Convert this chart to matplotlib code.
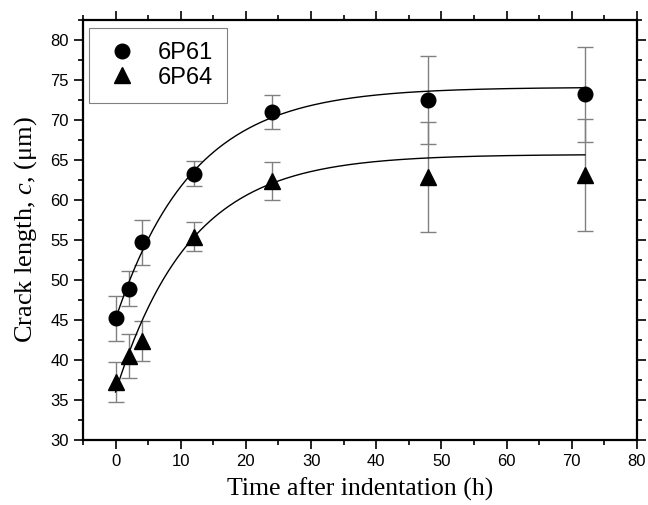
import numpy as np
import matplotlib
matplotlib.use('Agg')
import matplotlib.pyplot as plt
from matplotlib.ticker import MultipleLocator

# data
t_hours = [0, 2, 4, 12, 24, 48, 72]
c_6p61 = [45.2, 48.9, 54.7, 63.3, 71.0, 72.5, 73.2]
err_6p61 = [2.8, 2.2, 2.8, 1.6, 2.1, 5.5, 5.9]
c_6p64 = [37.3, 40.5, 42.4, 55.4, 62.4, 62.9, 63.1]
err_6p64 = [2.5, 2.8, 2.5, 1.8, 2.4, 6.9, 7.0]

# fitted saturation curves c = A - B*exp(-t/tau), parameters estimated from the drawn lines
fit_6p61 = (74.1, 29.0, 11.8)
fit_6p64 = (65.7, 29.7, 11.4)

plt.rcParams['mathtext.fontset'] = 'custom'
plt.rcParams['mathtext.it'] = 'Liberation Serif:italic'
plt.rcParams['mathtext.rm'] = 'Liberation Serif'

fig = plt.figure(figsize=(6.48,5.05), dpi=100)
ax = fig.add_axes([0.128, 0.1287, 0.855, 0.8317])

ecol = '#808080'
ax.errorbar(t_hours, c_6p61, yerr=err_6p61, fmt='none', ecolor=ecol, elinewidth=1.0,
            capsize=6, capthick=1.0, zorder=2)
ax.errorbar(t_hours, c_6p64, yerr=err_6p64, fmt='none', ecolor=ecol, elinewidth=1.0,
            capsize=6, capthick=1.0, zorder=2)

tt = np.linspace(0, 72, 300)
for A, B, tau in (fit_6p61, fit_6p64):
    ax.plot(tt, A - B*np.exp(-tt/tau), color='black', lw=1.0, zorder=4)

ax.plot(t_hours, c_6p61, 'o', color='black', ms=10.5, ls='none', label='6P61', zorder=3)
ax.plot(t_hours, c_6p64, '^', color='black', ms=11, ls='none', label='6P64', zorder=3)

ax.set_xlim(-5, 80)
ax.set_ylim(30, 82.5)
ax.xaxis.set_major_locator(MultipleLocator(10))
ax.xaxis.set_minor_locator(MultipleLocator(5))
ax.yaxis.set_major_locator(MultipleLocator(5))
ax.yaxis.set_minor_locator(MultipleLocator(2.5))

ax.tick_params(which='both', direction='out', top=True, right=True, width=1.2)
ax.tick_params(which='major', length=6.5)
ax.tick_params(which='minor', length=3.8)
for sp in ax.spines.values():
    sp.set_linewidth(1.6)
for lab in ax.get_xticklabels() + ax.get_yticklabels():
    lab.set_fontfamily('Liberation Sans')
    lab.set_fontsize(12)

ax.set_xlabel('Time after indentation (h)', fontfamily='Liberation Serif', fontsize=18.5, labelpad=6)
ax.set_ylabel('Crack length, $c$, (μm)', fontfamily='Liberation Serif', fontsize=19, labelpad=8)

leg = ax.legend(loc='upper left', bbox_to_anchor=(0.011, 0.981), borderaxespad=0,
                prop={'family':'Liberation Sans', 'size':17}, fancybox=False,
                edgecolor='#808080', framealpha=1, handletextpad=0.7, borderpad=0.6,
                labelspacing=0.1, handlelength=1.6)
leg.get_frame().set_linewidth(0.8)

plt.savefig('out.png', dpi=100)
